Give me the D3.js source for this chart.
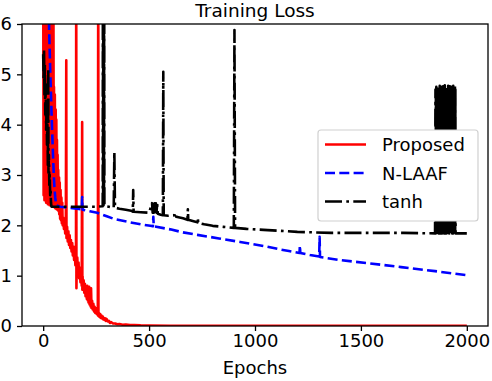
<!DOCTYPE html>
<html>
<head>
<meta charset="utf-8">
<script src="https://cdn.jsdelivr.net/npm/d3@7"></script>
<style>
  html, body { margin: 0; padding: 0; background: #fff; }
  svg { display: block; font-family: "DejaVu Sans", sans-serif; }
</style>
</head>
<body>
<svg id="chart" width="492" height="381"></svg>
<script>
// ---------------- data ----------------
const chartTitle = "Training Loss";
const xLabel = "Epochs";
const xTicks = [0, 500, 1000, 1500, 2000];
const yTicks = [0, 1, 2, 3, 4, 5, 6];
const seriesNames = ["Proposed", "N-LAAF", "tanh"];

// [epoch, loss]; values above 6 leave the top of the plot
const proposed = [
  [0,7.5],[2,2.6],[4,7.5],[6,2.5],[8,7.5],[10,2.5],[12,7.5],[14,2.45],[16,7.5],[18,2.45],
  [20,7.5],[22,2.42],[24,7.5],[26,2.42],[28,7.5],[30,2.4],[32,7.5],[34,2.4],[36,7.5],[38,2.4],
  [40,7.5],[42,2.38],[44,7.5],[46,2.38],[48,7.5],[50,2.37],
  [51,4.75],[53,2.36],[55,4.6],[57,2.34],[59,4.3],[61,2.33],[62,4.1],[64,2.32],[65,3.7],[67,2.31],
  [68,3.4],[70,2.3],[71,3.1],[73,2.28],[75,2.95],[76,2.22],[78,2.85],[80,2.13],[82,2.7],[84,2.1],
  [86,2.55],[88,2.04],[90,2.45],[92,2.0],
  [95,2.15],[98,1.93],[101,2.1],[104,1.84],[107,2.04],[109,5.28],[110,1.75],[113,1.97],[116,1.68],
  [119,1.88],[122,1.61],[125,1.8],[128,1.55],[131,1.71],[134,1.48],[137,1.65],[140,1.4],[143,1.58],
  [146,1.31],[149,1.51],[152,1.21],[155,1.44],[156,7.5],[157,0.75],[158,1.12],[161,1.36],[164,1.04],
  [167,1.26],[170,0.95],[173,1.16],[176,0.87],[179,1.08],[182,0.8],[184,4.05],[185,0.72],[186,0.99],
  [188,0.73],[191,0.91],[194,0.66],[197,0.84],[200,0.59],[203,0.76],[206,0.54],[208,0.8],[210,0.51],
  [212,0.69],[214,0.47],[217,0.78],[219,0.43],[221,0.56],[224,0.39],[226,0.75],[228,0.36],[231,0.5],
  [234,0.33],[237,0.44],[240,0.29],[243,0.38],[246,0.26],[249,0.35],[252,0.24],[255,0.31],[258,0.21],
  [260,7.5],[261,0.2],[263,0.26],[266,0.18],[269,0.24],[272,0.16],[275,0.21],[278,0.15],[281,0.19],
  [284,0.13],[287,0.16],[290,0.12],[293,0.15],[296,0.1],[299,0.14],
  [305,0.09],[310,0.1],[315,0.06],[320,0.08],[330,0.05],[340,0.05],[350,0.035],[360,0.04],
  [375,0.025],[390,0.03],[410,0.018],[430,0.02],[460,0.012],[500,0.008],[600,0.006],[800,0.005],
  [1000,0.004],[1500,0.004],[2000,0.003]
];

const nlaaf = [
  [26,7.5],[28,5.92],[33,5.1],[38,4.43],[42,3.9],[46,3.44],[50,3.0],[53,2.76],[57,2.55],[61,2.4],
  [80,2.37],[120,2.35],[160,2.33],[182,2.32],[184,2.56],[186,2.31],[220,2.28],[255,2.25],[300,2.18],
  [340,2.12],[411,2.06],[460,2.02],[506,1.99],[518,1.98],[520,2.17],[522,1.98],[600,1.92],[660,1.86],
  [728,1.81],[830,1.74],[930,1.67],[1040,1.59],[1120,1.52],[1160,1.49],[1210,1.45],[1212,1.6],
  [1214,1.45],[1260,1.41],[1303,1.38],[1305,1.77],[1307,1.37],[1400,1.31],[1530,1.25],[1690,1.17],
  [1850,1.09],[2000,1.01]
];

const tanh = [
  [0,5.4],[2,4.9],[4,5.5],[6,4.6],[8,5.2],[10,4.2],[12,4.8],[14,3.9],[16,4.4],[18,3.6],[20,4.0],
  [22,3.2],[24,5.12],[25,3.0],[27,3.4],[29,2.8],[31,3.0],[33,2.6],[35,2.7],[37,2.45],[39,2.37],
  [80,2.37],[150,2.37],[250,2.37],[281,2.38],[282,7.9],[283,2.42],[284,7.6],[285,2.4],[286,8.2],
  [287,2.45],[288,7.75],[289,2.4],[295,2.38],[310,2.37],[333,2.35],[336,3.46],[339,2.35],[360,2.33],
  [390,2.31],[415,2.29],[423,2.27],[425,2.7],[427,2.27],[460,2.26],[500,2.25],[514,2.44],[517,2.25],
  [520,2.44],[523,2.25],[526,2.44],[529,2.25],[532,2.44],[535,2.25],[538,2.44],[541,2.23],[555,2.21],
  [565,2.2],[567,5.05],[569,2.2],[590,2.19],[620,2.2],[624,2.25],[628,2.17],[660,2.14],[681,2.11],
  [683,2.32],[685,2.11],[710,2.08],[728,2.06],[730,2.15],[732,2.05],[760,2.02],[800,1.99],[850,1.97],
  [900,1.95],[903,5.88],[906,1.95],[960,1.93],[1040,1.91],[1120,1.89],[1200,1.87],[1280,1.86],
  [1360,1.85],[1500,1.85],[1700,1.85],[1850,1.84],
  [1852,4.7],[1853,1.84],[1854,4.64],[1855,1.87],[1856,4.75],[1857,1.85],[1858,4.67],[1859,1.89],
  [1860,4.72],[1861,1.84],[1862,4.61],[1863,1.86],[1864,4.76],[1865,1.88],[1866,4.69],[1867,1.84],
  [1868,4.73],[1869,1.9],[1870,4.65],[1871,1.85],[1872,4.77],[1873,1.84],[1874,4.68],[1875,1.87],
  [1876,4.71],[1877,1.84],[1878,4.63],[1879,1.89],[1880,4.75],[1881,1.85],[1882,4.66],[1883,1.84],
  [1884,4.74],[1885,1.88],[1886,4.62],[1887,1.84],[1888,4.76],[1889,1.86],[1890,4.7],[1891,1.9],
  [1892,4.72],[1893,1.84],[1894,4.64],[1895,1.87],[1896,4.78],[1897,1.84],[1898,4.67],[1899,1.85],
  [1900,4.73],[1901,1.89],[1902,4.61],[1903,1.84],[1904,4.75],[1905,1.86],[1906,4.69],[1907,1.84],
  [1908,4.71],[1909,1.88],[1910,4.65],[1911,1.84],[1912,4.77],[1913,1.85],[1914,4.68],[1915,1.9],
  [1916,4.74],[1917,1.84],[1918,4.63],[1919,1.87],[1920,4.76],[1921,1.84],[1922,4.66],[1923,1.86],
  [1924,4.72],[1925,1.89],[1926,4.62],[1927,1.84],[1928,4.75],[1929,1.85],[1930,4.7],[1931,1.84],
  [1932,4.73],[1933,1.88],[1934,4.64],[1935,1.84],[1936,4.77],[1937,1.86],[1938,4.67],[1939,1.84],
  [1940,4.71],[1941,1.9],[1942,4.65],[1943,1.84],[1944,4.76],[1945,1.87],[1946,4.7],[1947,1.84],
  [2000,1.84]
];

// ---------------- layout ----------------
const svg = d3.select("#chart");
const L = 22, R = 488, T = 24, B = 326;
const x = d3.scaleLinear().domain([-100, 2100]).range([L, R]);
const y = d3.scaleLinear().domain([0, 6]).range([B, T]);
const FONT = 18;
const LW = 2.6;

svg.append("defs").append("clipPath").attr("id", "plotclip")
  .append("rect").attr("x", L).attr("y", T).attr("width", R - L).attr("height", B - T);

const line = d3.line().x(d => x(d[0])).y(d => y(d[1]));

const series = [
  { name: seriesNames[0], data: proposed, color: "#ff0000", dash: null },
  { name: seriesNames[1], data: nlaaf, color: "#0000ff", dash: "10,4.3" },
  { name: seriesNames[2], data: tanh, color: "#000000", dash: "17,4.3,2.7,4.3" }
];

const plot = svg.append("g").attr("clip-path", "url(#plotclip)");
series.forEach(s => {
  plot.append("path")
    .datum(s.data)
    .attr("d", line)
    .attr("fill", "none")
    .attr("stroke", s.color)
    .attr("stroke-width", LW)
    .attr("stroke-linejoin", "round")
    .attr("stroke-dasharray", s.dash);
});

// axes
const fmt = d3.format("d");
const xAxis = d3.axisBottom(x).tickValues(xTicks).tickFormat(fmt).tickSize(5).tickSizeOuter(0).tickPadding(3.2);
const yAxis = d3.axisLeft(y).tickValues(yTicks).tickFormat(fmt).tickSize(5).tickSizeOuter(0).tickPadding(5);

const gx = svg.append("g").attr("transform", `translate(0,${B})`).call(xAxis);
const gy = svg.append("g").attr("transform", `translate(${L},0)`).call(yAxis);
[gx, gy].forEach(g => {
  g.select(".domain").remove();
  g.selectAll(".tick line").attr("stroke", "#000").attr("stroke-width", 1.3);
  g.selectAll(".tick text").attr("fill", "#000").style("font-size", FONT + "px")
    .style("font-family", "'DejaVu Sans', sans-serif");
});

// frame
svg.append("rect").attr("x", L).attr("y", T).attr("width", R - L).attr("height", B - T)
  .attr("fill", "none").attr("stroke", "#000").attr("stroke-width", 1.3);

// title and label
svg.append("text").attr("x", (L + R) / 2).attr("y", 16.5).attr("text-anchor", "middle")
  .style("font-size", "18.5px").attr("fill", "#000").text(chartTitle);
svg.append("text").attr("x", (L + R) / 2).attr("y", 374).attr("text-anchor", "middle")
  .style("font-size", FONT + "px").attr("fill", "#000").text(xLabel);

// legend
const lg = svg.append("g");
lg.append("rect").attr("x", 318).attr("y", 130).attr("width", 160).attr("height", 91)
  .attr("rx", 3).attr("fill", "#fff").attr("stroke", "#d0d0d0").attr("stroke-width", 1.2);
const legY = [151, 179.5, 208];
series.forEach((s, i) => {
  const cy = legY[i] - 6.5;
  lg.append("line").attr("x1", 325).attr("x2", 366).attr("y1", cy).attr("y2", cy)
    .attr("stroke", s.color).attr("stroke-width", LW).attr("stroke-dasharray", s.dash);
  lg.append("text").attr("x", 382).attr("y", legY[i]).style("font-size", FONT + "px")
    .attr("fill", "#000").text(s.name);
});
</script>
</body>
</html>
